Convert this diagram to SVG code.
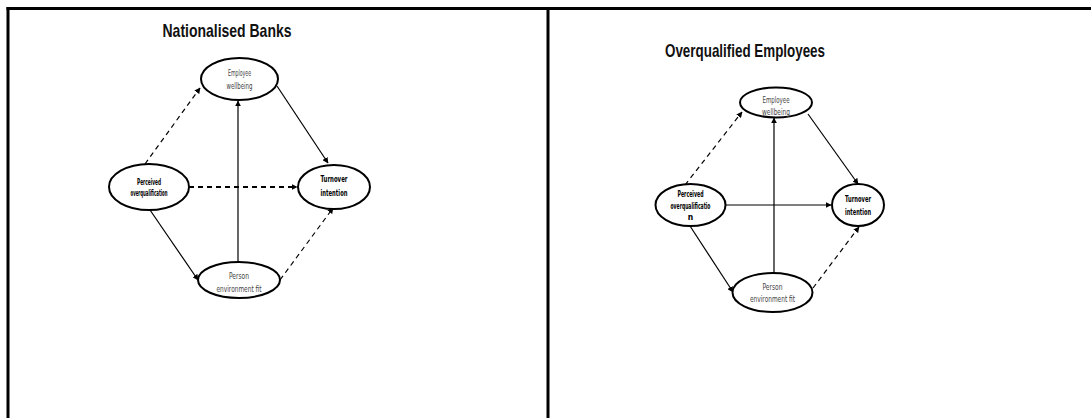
<svg xmlns="http://www.w3.org/2000/svg" width="1091" height="418" viewBox="0 0 1091 418">
<style>
.frame{stroke:#000;stroke-width:3;fill:none}
.node{fill:#fff;stroke:#000;stroke-width:2}
.lbl{font-family:"DejaVu Sans Condensed","Liberation Sans",sans-serif;font-size:8.5px;text-anchor:middle;fill:#444}
.b{font-weight:bold;fill:#000}
.title{font-family:"Liberation Sans",sans-serif;font-weight:bold;font-size:19px;text-anchor:middle;fill:#111}
.ln{stroke:#000;stroke-width:1.2;fill:none}
.dash{stroke-dasharray:5,4}
.thick{stroke-width:2}
</style>
<defs>
<marker id="ah" viewBox="0 0 10 10" refX="9" refY="5" markerWidth="6" markerHeight="6" markerUnits="userSpaceOnUse" orient="auto">
<path d="M0,0 L10,5 L0,10 z" fill="#000"/>
</marker>
</defs>
<g id="frame">
<line class="frame" x1="6.5" y1="8.5" x2="1091" y2="8.5"/>
<line class="frame" x1="8" y1="7" x2="8" y2="418"/>
<line class="frame" x1="548" y1="7" x2="548" y2="418"/>
</g>
<text class="title" x="227" y="37" textLength="129" lengthAdjust="spacingAndGlyphs">Nationalised Banks</text>
<text class="title" x="745" y="57" textLength="160" lengthAdjust="spacingAndGlyphs">Overqualified Employees</text>
<g id="connectors">
<line class="ln dash" x1="145" y1="164" x2="200" y2="88" marker-end="url(#ah)"/>
<line class="ln" x1="277" y1="86" x2="328" y2="163" marker-end="url(#ah)"/>
<line class="ln dash thick" x1="189" y1="187" x2="297" y2="187" marker-end="url(#ah)"/>
<line class="ln" x1="150" y1="210" x2="198" y2="280" marker-end="url(#ah)"/>
<line class="ln" x1="238" y1="262" x2="238" y2="101" marker-end="url(#ah)"/>
<line class="ln dash" x1="280" y1="280" x2="333" y2="208" marker-end="url(#ah)"/>
<line class="ln dash" x1="685" y1="185" x2="742" y2="112" marker-end="url(#ah)"/>
<line class="ln" x1="808" y1="114" x2="858" y2="184" marker-end="url(#ah)"/>
<line class="ln" x1="725" y1="205" x2="831" y2="205" marker-end="url(#ah)"/>
<line class="ln" x1="690" y1="226" x2="733" y2="292" marker-end="url(#ah)"/>
<line class="ln" x1="774" y1="273" x2="774" y2="118" marker-end="url(#ah)"/>
<line class="ln dash" x1="813" y1="288" x2="859" y2="227" marker-end="url(#ah)"/>
</g>
<g id="n-ew1">
<ellipse class="node" cx="239.5" cy="79" rx="38.5" ry="21"/>
<text class="lbl" x="239.5" y="76" textLength="23" lengthAdjust="spacingAndGlyphs">Employee</text>
<text class="lbl" x="239.5" y="89" textLength="26" lengthAdjust="spacingAndGlyphs">wellbeing</text>
</g>
<g id="n-po1">
<ellipse class="node" cx="149" cy="187" rx="40" ry="23"/>
<text class="lbl b" x="149" y="185" textLength="24" lengthAdjust="spacingAndGlyphs">Perceived</text>
<text class="lbl b" x="149" y="196" textLength="37" lengthAdjust="spacingAndGlyphs">overqualification</text>
</g>
<g id="n-ti1">
<ellipse class="node" cx="334" cy="187" rx="36" ry="22"/>
<text class="lbl b" x="334" y="182" textLength="27" lengthAdjust="spacingAndGlyphs">Turnover</text>
<text class="lbl b" x="334" y="196" textLength="27" lengthAdjust="spacingAndGlyphs">intention</text>
</g>
<g id="n-pef1">
<ellipse class="node" cx="239" cy="280" rx="41" ry="18"/>
<text class="lbl" x="239" y="279" textLength="20" lengthAdjust="spacingAndGlyphs">Person</text>
<text class="lbl" x="239" y="292" textLength="45" lengthAdjust="spacingAndGlyphs">environment fit</text>
</g>
<g id="n-ew2">
<ellipse class="node" cx="776" cy="102.5" rx="36" ry="15"/>
<text class="lbl" x="776" y="102.5" textLength="27" lengthAdjust="spacingAndGlyphs">Employee</text>
<text class="lbl" x="776" y="114.5" textLength="28" lengthAdjust="spacingAndGlyphs">wellbeing</text>
</g>
<g id="n-po2">
<ellipse class="node" cx="690.5" cy="205" rx="35" ry="21"/>
<text class="lbl b" x="690.5" y="196.5" textLength="26" lengthAdjust="spacingAndGlyphs">Perceived</text>
<text class="lbl b" x="690.5" y="209" textLength="40" lengthAdjust="spacingAndGlyphs">overqualificatio</text>
<text class="lbl b" x="690.5" y="220">n</text>
</g>
<g id="n-ti2">
<ellipse class="node" cx="858" cy="205" rx="26" ry="21"/>
<text class="lbl b" x="858" y="201.5" textLength="26" lengthAdjust="spacingAndGlyphs">Turnover</text>
<text class="lbl b" x="858" y="214.5" textLength="26" lengthAdjust="spacingAndGlyphs">intention</text>
</g>
<g id="n-pef2">
<ellipse class="node" cx="772.5" cy="292.5" rx="40" ry="19.5"/>
<text class="lbl" x="772.5" y="290" textLength="20" lengthAdjust="spacingAndGlyphs">Person</text>
<text class="lbl" x="772.5" y="302" textLength="45" lengthAdjust="spacingAndGlyphs">environment fit</text>
</g>
</svg>
